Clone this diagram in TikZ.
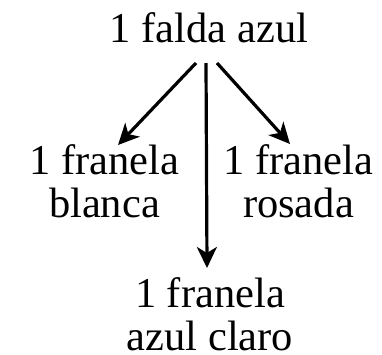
\documentclass[tikz,border=0pt]{standalone}
\usepackage{fontspec}
\setmainfont{Liberation Serif}
\usepackage{tikz}
\usetikzlibrary{arrows.meta}

\begin{document}
\begin{tikzpicture}[
    x=1pt, y=1pt,
    item/.style={align=center, inner sep=0pt, font=\fontsize{42.5}{43}\selectfont},
    arrow/.style={-{Stealth[length=21pt, width=20pt, inset=6pt]}, line width=3.2pt}
  ]
    \useasboundingbox (0,0) rectangle (382,-354);
    \node[item, anchor=base] (falda) at (209,-42) {1 falda azul};
    \node[item, anchor=north] (blanca) at (104.5,-144) {1 franela\\blanca};
    \node[item, anchor=north] (rosada) at (298.5,-144) {1 franela\\rosada};
    \node[item, anchor=north] (claro) at (210,-277) {1 franela\\azul claro};
    \draw[arrow] ([xshift=-13pt, yshift=-21pt]falda.base) -- ([xshift=13.5pt, yshift=-1pt]blanca.north);
    \draw[arrow] ([xshift=-3pt, yshift=-21pt]falda.base) -- ([xshift=-3pt, yshift=9pt]claro.north);
    \draw[arrow] ([xshift=8pt, yshift=-21pt]falda.base) -- ([xshift=-8.5pt]rosada.north);
  \end{tikzpicture}
\end{document}
